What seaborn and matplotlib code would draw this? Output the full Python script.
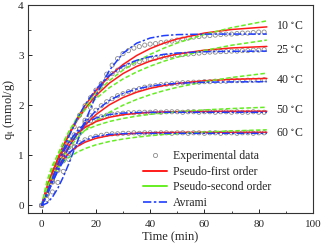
import numpy as np
import pandas as pd
import seaborn as sns
import matplotlib
matplotlib.use("Agg")
import matplotlib.pyplot as plt
from matplotlib.lines import Line2D
from matplotlib.ticker import MultipleLocator

# time grids (min)
t_fit = [0, 2, 4, 6, 8, 10, 13, 16, 20, 25, 30, 35, 40, 45, 50, 60, 70, 83]
t_exp = list(range(0, 84, 2))

temps = ['10 $^{\\circ}$C', '25 $^{\\circ}$C', '40 $^{\\circ}$C', '50 $^{\\circ}$C', '60 $^{\\circ}$C']
label_y = [3.59, 3.11, 2.51, 1.91, 1.45]

# experimental data, qt (mmol/g)
exp_10 = [0, 0.12, 0.27, 0.46, 0.68, 0.92, 1.18, 1.44, 1.70, 1.96, 2.20, 2.42, 2.62, 2.80, 2.93, 3.03,
          3.09, 3.14, 3.17, 3.20, 3.22, 3.23, 3.25, 3.26, 3.28, 3.30, 3.32, 3.34, 3.36, 3.37, 3.38,
          3.39, 3.40, 3.41, 3.42, 3.42, 3.43, 3.44, 3.44, 3.45, 3.46, 3.46]
exp_25 = [0, 0.23, 0.52, 0.80, 1.07, 1.33, 1.57, 1.80, 1.99, 2.15, 2.30, 2.43, 2.54, 2.63, 2.70, 2.76,
          2.80, 2.84, 2.87, 2.90, 2.92, 2.94, 2.96, 2.98, 2.99, 3.00, 3.01, 3.02, 3.03, 3.04, 3.05,
          3.06, 3.06, 3.07, 3.07, 3.08, 3.08, 3.09, 3.09, 3.10, 3.10, 3.11]
exp_40 = [0, 0.22, 0.47, 0.72, 0.95, 1.16, 1.35, 1.52, 1.66, 1.79, 1.90, 1.99, 2.07, 2.13, 2.19, 2.23,
          2.27, 2.30, 2.33, 2.36, 2.38, 2.39, 2.41, 2.42, 2.43, 2.44, 2.45, 2.45, 2.46, 2.46, 2.47,
          2.47, 2.48, 2.48, 2.48, 2.49, 2.49, 2.49, 2.50, 2.50, 2.50, 2.51]
exp_50 = [0, 0.26, 0.55, 0.82, 1.06, 1.25, 1.41, 1.53, 1.62, 1.69, 1.74, 1.77, 1.80, 1.82, 1.83, 1.84,
          1.85, 1.85, 1.86, 1.86, 1.86, 1.87, 1.86, 1.87, 1.87, 1.87, 1.86, 1.87, 1.87, 1.86, 1.87,
          1.87, 1.86, 1.87, 1.87, 1.86, 1.87, 1.86, 1.86, 1.87, 1.86, 1.86]
exp_60 = [0, 0.22, 0.47, 0.70, 0.89, 1.04, 1.16, 1.25, 1.31, 1.35, 1.38, 1.40, 1.42, 1.43, 1.43, 1.44,
          1.44, 1.45, 1.44, 1.45, 1.45, 1.44, 1.45, 1.45, 1.44, 1.45, 1.45, 1.44, 1.45, 1.45, 1.44,
          1.45, 1.45, 1.44, 1.45, 1.45, 1.44, 1.45, 1.45, 1.44, 1.45, 1.45]

# pseudo-first order
pfo_10 = [0, 0.345, 0.656, 0.938, 1.193, 1.424, 1.730, 1.994, 2.288, 2.583, 2.812, 2.991, 3.130, 3.238, 3.323, 3.440, 3.511, 3.563]
pfo_25 = [0, 0.348, 0.659, 0.935, 1.181, 1.401, 1.687, 1.927, 2.189, 2.442, 2.632, 2.774, 2.880, 2.960, 3.020, 3.099, 3.143, 3.173]
pfo_40 = [0, 0.297, 0.560, 0.792, 0.997, 1.178, 1.411, 1.604, 1.812, 2.009, 2.153, 2.259, 2.337, 2.393, 2.435, 2.488, 2.517, 2.535]
pfo_50 = [0, 0.371, 0.669, 0.908, 1.100, 1.254, 1.430, 1.557, 1.672, 1.760, 1.811, 1.840, 1.857, 1.867, 1.872, 1.877, 1.879, 1.880]
pfo_60 = [0, 0.323, 0.574, 0.770, 0.923, 1.042, 1.173, 1.262, 1.340, 1.396, 1.426, 1.442, 1.450, 1.455, 1.457, 1.459, 1.460, 1.460]

# pseudo-second order
pso_10 = [0, 0.394, 0.726, 1.011, 1.256, 1.471, 1.746, 1.977, 2.233, 2.492, 2.700, 2.872, 3.015, 3.137, 3.242, 3.414, 3.548, 3.684]
pso_25 = [0, 0.410, 0.744, 1.020, 1.254, 1.453, 1.703, 1.909, 2.131, 2.351, 2.524, 2.664, 2.779, 2.877, 2.959, 3.093, 3.197, 3.300]
pso_40 = [0, 0.317, 0.577, 0.795, 0.979, 1.137, 1.337, 1.502, 1.682, 1.859, 2.000, 2.115, 2.210, 2.290, 2.358, 2.469, 2.554, 2.640]
pso_50 = [0, 0.495, 0.802, 1.012, 1.163, 1.278, 1.407, 1.501, 1.593, 1.676, 1.736, 1.782, 1.818, 1.846, 1.870, 1.907, 1.934, 1.960]
pso_60 = [0, 0.360, 0.591, 0.751, 0.869, 0.959, 1.060, 1.135, 1.210, 1.277, 1.326, 1.363, 1.392, 1.416, 1.435, 1.466, 1.488, 1.510]

# Avrami
avr_10 = [0, 0.046, 0.166, 0.345, 0.571, 0.830, 1.250, 1.674, 2.190, 2.698, 3.038, 3.237, 3.341, 3.389, 3.409, 3.419, 3.420, 3.420]
avr_25 = [0, 0.233, 0.525, 0.822, 1.106, 1.370, 1.719, 2.011, 2.320, 2.595, 2.778, 2.896, 2.969, 3.015, 3.042, 3.068, 3.076, 3.080]
avr_40 = [0, 0.216, 0.467, 0.714, 0.944, 1.154, 1.427, 1.653, 1.889, 2.097, 2.235, 2.324, 2.381, 2.416, 2.438, 2.459, 2.466, 2.470]
avr_50 = [0, 0.243, 0.541, 0.821, 1.063, 1.260, 1.481, 1.629, 1.745, 1.815, 1.843, 1.854, 1.858, 1.860, 1.860, 1.860, 1.860, 1.860]
avr_60 = [0, 0.209, 0.460, 0.690, 0.882, 1.035, 1.198, 1.301, 1.377, 1.418, 1.433, 1.438, 1.440, 1.440, 1.440, 1.440, 1.440, 1.440]

exp_all = [exp_10, exp_25, exp_40, exp_50, exp_60]
pfo_all = [pfo_10, pfo_25, pfo_40, pfo_50, pfo_60]
pso_all = [pso_10, pso_25, pso_40, pso_50, pso_60]
avr_all = [avr_10, avr_25, avr_40, avr_50, avr_60]

RED = '#ff1a1a'
GREEN = '#66ee22'
BLUE = '#1f3dff'
GRAY = '#8c8c8c'
avr_dash = (0, (5, 1.5, 1.5, 1.5))

sns.set_style('ticks')
plt.rcParams['font.family'] = ['Liberation Serif', 'DejaVu Serif']
plt.rcParams['mathtext.fontset'] = 'stix'

fig = plt.figure(figsize=(3.22, 2.5), dpi=100)
ax = fig.add_axes([0.087, 0.148, 0.885, 0.832])

for i in range(5):
    sns.scatterplot(x=t_exp, y=exp_all[i], ax=ax, marker='o', s=9,
                    facecolor='none', edgecolor=GRAY, linewidth=0.6, zorder=2)
    sns.lineplot(x=t_fit, y=pfo_all[i], ax=ax, color=RED, lw=1.1, zorder=3)
    sns.lineplot(x=t_fit, y=pso_all[i], ax=ax, color=GREEN, lw=1.1, zorder=3,
                 linestyle=(0, (3, 1.5)))
    sns.lineplot(x=t_fit, y=avr_all[i], ax=ax, color=BLUE, lw=1.1, zorder=4,
                 linestyle=avr_dash)
    ax.text(86.5, label_y[i], temps[i], fontsize=8.5, va='center', ha='left')

ax.set_xlim(-5, 100)
ax.set_ylim(-0.15, 4)
ax.xaxis.set_major_locator(MultipleLocator(20))
ax.xaxis.set_minor_locator(MultipleLocator(10))
ax.yaxis.set_major_locator(MultipleLocator(1))
ax.yaxis.set_minor_locator(MultipleLocator(0.5))
ax.tick_params(which='both', direction='in', labelsize=8)
ax.tick_params(axis='x', pad=5)
ax.tick_params(axis='y', pad=3)
ax.tick_params(which='major', length=3, width=0.7)
ax.tick_params(which='minor', length=1.8, width=0.6)
for s in ax.spines.values():
    s.set_linewidth(0.8)
    s.set_color('#333333')

ax.set_xlabel('Time (min)', fontsize=9, labelpad=2)
ax.set_ylabel('q$_\\mathrm{t}$ (mmol/g)', fontsize=9, labelpad=1)

handles = [
    Line2D([], [], marker='o', ls='none', mfc='none', mec=GRAY, ms=3, mew=0.6),
    Line2D([], [], color=RED, lw=1.4),
    Line2D([], [], color=GREEN, lw=1.4),
    Line2D([], [], color=BLUE, lw=1.2, ls=avr_dash),
]
labels = ['Experimental data', 'Pseudo-first order', 'Pseudo-second order', 'Avrami']
ax.legend(handles, labels, loc='lower left', bbox_to_anchor=(0.38, -0.015), frameon=False,
          fontsize=8.5, handlelength=2.0, handletextpad=0.5, labelspacing=0.3,
          borderaxespad=0.2)

fig.savefig('out.png', dpi=100)
